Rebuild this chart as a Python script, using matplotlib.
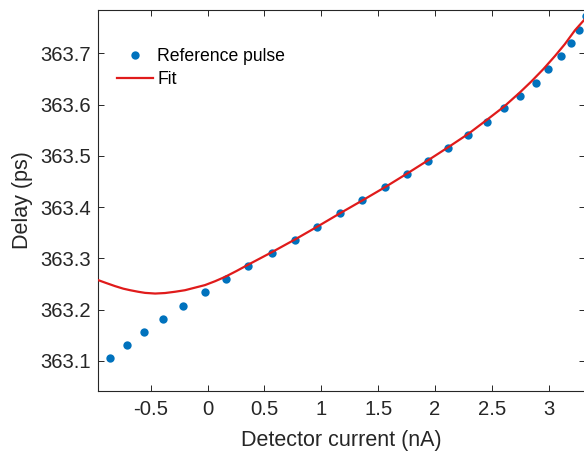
import matplotlib
import matplotlib.pyplot as plt

matplotlib.use("Agg")
matplotlib.rcParams.update({
    "font.family": ["Liberation Sans", "DejaVu Sans"],
    "axes.unicode_minus": False,
})

# Measured delay of the reference pulse vs. detector current
current_na = [-0.857, -0.710, -0.555, -0.388, -0.213, -0.025, 0.165, 0.359,
              0.564, 0.769, 0.965, 1.164, 1.360, 1.560, 1.750, 1.935, 2.116,
              2.292, 2.453, 2.605, 2.746, 2.884, 2.989, 3.104, 3.192, 3.267,
              3.326]
delay_ps = [363.105, 363.131, 363.157, 363.182, 363.208, 363.234, 363.259,
            363.285, 363.311, 363.336, 363.362, 363.388, 363.413, 363.439,
            363.465, 363.490, 363.516, 363.541, 363.567, 363.593, 363.617,
            363.643, 363.669, 363.695, 363.720, 363.745, 363.772]

# Fitted curve, sampled
fit_x = [-0.965, -0.890, -0.813, -0.740, -0.680, -0.610, -0.549, -0.460,
         -0.373, -0.285, -0.198, -0.110, -0.022, 0.066, 0.154, 0.255,
         0.359, 0.564, 0.769, 0.965, 1.164, 1.360, 1.560, 1.750, 1.935,
         2.116, 2.292, 2.453, 2.605, 2.746, 2.845, 2.950, 3.054, 3.140,
         3.229, 3.317]
fit_y = [363.258, 363.252, 363.246, 363.241, 363.238, 363.235, 363.2328,
         363.2315, 363.2325, 363.235, 363.238, 363.243, 363.248, 363.2555,
         363.264, 363.2755, 363.288, 363.312, 363.337, 363.362, 363.388,
         363.413, 363.439, 363.465, 363.491, 363.517, 363.543, 363.570,
         363.596, 363.624, 363.645, 363.669, 363.695, 363.718, 363.745,
         363.767]

xticks = [-0.5, 0, 0.5, 1, 1.5, 2, 2.5, 3]
yticks = [363.1, 363.2, 363.3, 363.4, 363.5, 363.6, 363.7]

AX_COLOR = "#262626"

fig = plt.figure(figsize=(5.84, 4.51), dpi=100)
ax = fig.add_axes([0.1673, 0.1337, 0.8344, 0.8441])

ax.plot(current_na, delay_ps, "o", color="#0072BD", markersize=6,
        markeredgewidth=0, label="Reference pulse", zorder=2)
ax.plot(fit_x, fit_y, "-", color="#E01B1B", linewidth=1.6, label="Fit",
        zorder=3)

ax.set_xlim(-0.965, 3.317)
ax.set_ylim(363.042, 363.7845)
ax.set_xticks(xticks)
ax.set_xticklabels([f"{t:g}" for t in xticks])
ax.set_yticks(yticks)
ax.set_yticklabels([f"{t:.1f}" for t in yticks])

ax.tick_params(direction="in", length=4, width=0.7, colors=AX_COLOR,
               labelsize=14.6, top=True, right=True)
ax.tick_params(axis="y", pad=5)
ax.tick_params(axis="x", pad=7)
for sp in ax.spines.values():
    sp.set_color(AX_COLOR)
    sp.set_linewidth(0.8)

ax.set_xlabel("Detector current (nA)", fontsize=15.5, color=AX_COLOR,
              labelpad=7.5)
ax.set_ylabel("Delay (ps)", fontsize=15.5, color=AX_COLOR, labelpad=5)

ax.legend(loc="upper left", bbox_to_anchor=(0.039, 0.8995), frameon=False,
          fontsize=12.7, handlelength=2.08, handletextpad=0.21,
          labelspacing=0.35, borderpad=0, borderaxespad=0)

fig.savefig("out.png", dpi=100)
